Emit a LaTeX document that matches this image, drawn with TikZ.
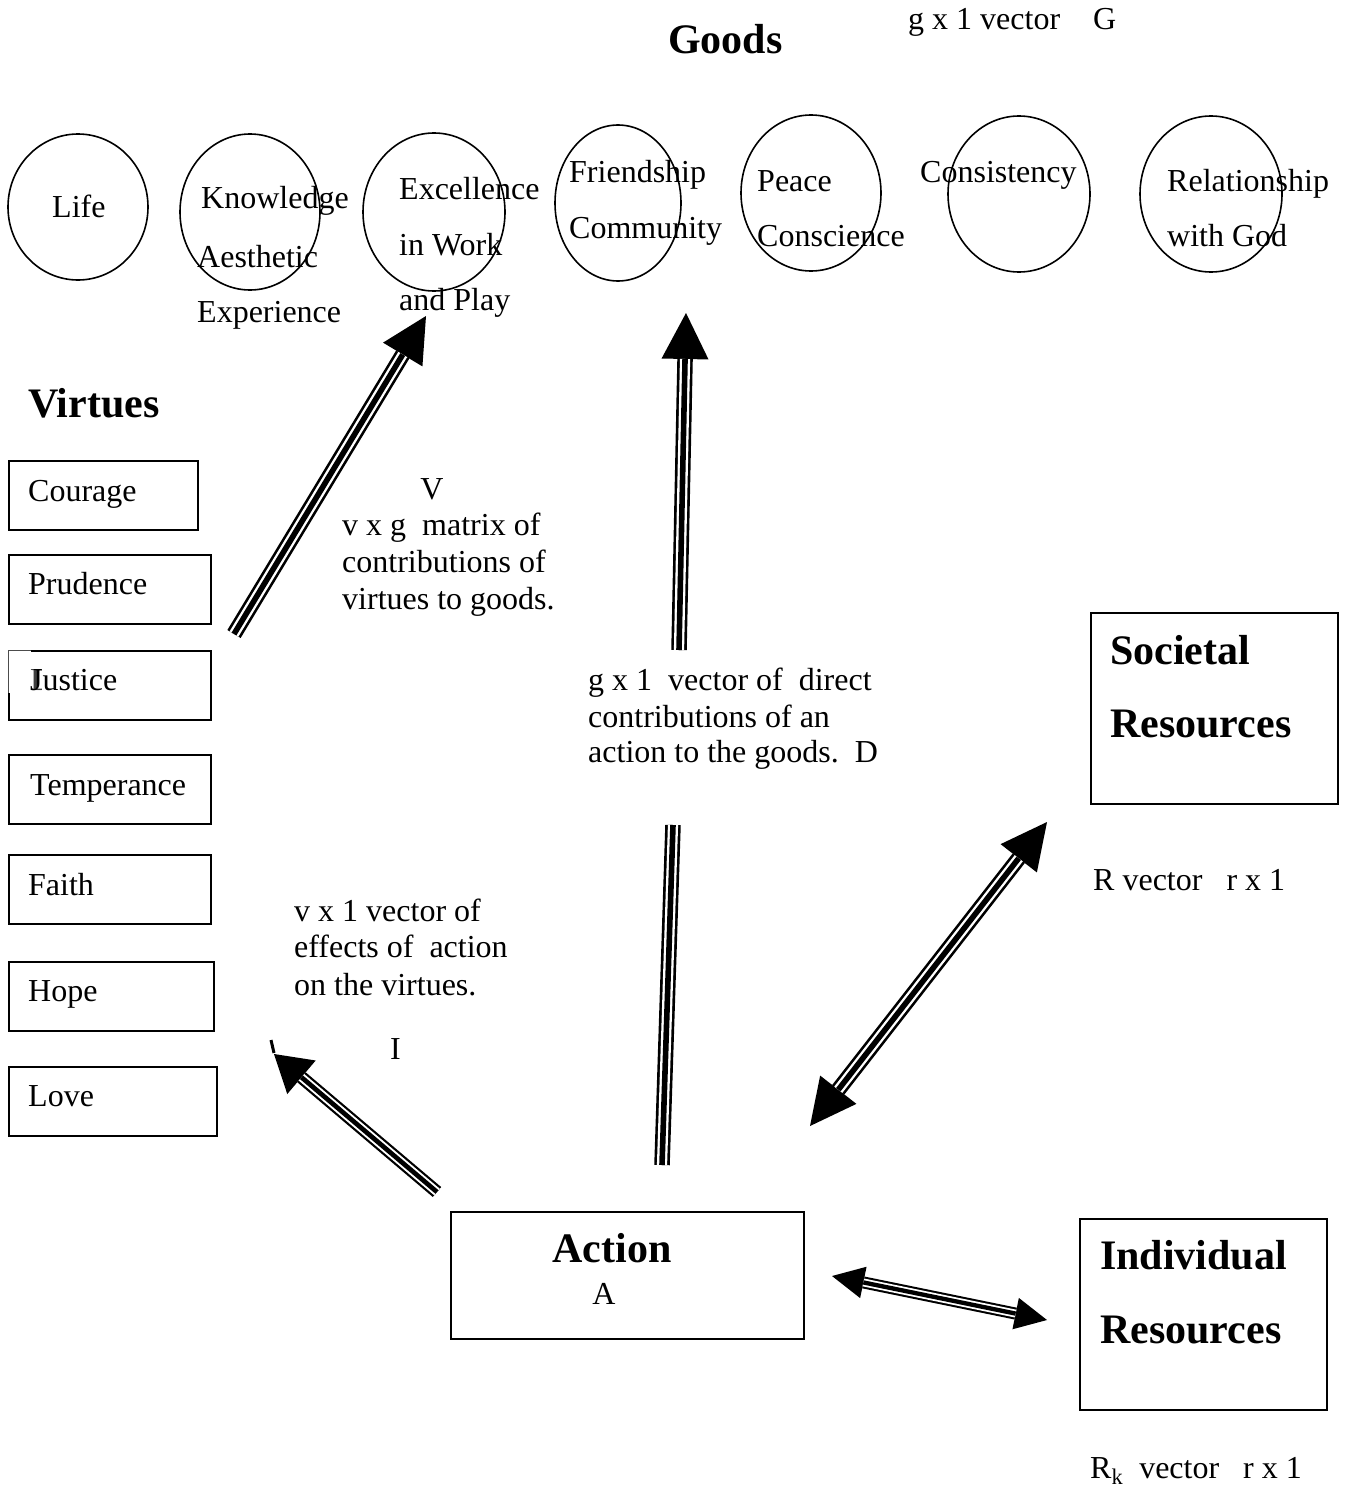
\documentclass[tikz,border=0pt]{standalone}
\usepackage{fontspec}
\setmainfont{Liberation Serif}
\usetikzlibrary{arrows.meta,shapes.geometric}
\begin{document}
\begin{tikzpicture}[x=1pt,y=-1pt,
  txt/.style={anchor=base west, inner sep=0pt, font=\fontsize{32}{37}\selectfont},
  btxt/.style={anchor=base west, inner sep=0pt, font=\fontsize{42}{48}\selectfont\bfseries},
  vbox/.style={draw, line width=2pt, anchor=north west, inner sep=0pt},
  good/.style={draw, ellipse, line width=1.6pt, inner sep=0pt},
  triplain/.style={line width=15.5pt, postaction={draw=white, line width=10.2pt}, postaction={draw=black, line width=5.6pt}},
  trione/.style n args={3}{line width=#3, -{Triangle[length=#1,width=#2,line width'=0pt]},
     postaction={draw=white, line width=#3*0.66, arrows=-, shorten >=#1},
     postaction={draw=black, line width=#3*0.36, arrows=-, shorten >=#1}},
  tritwo/.style 2 args={line width=#2, {Triangle[length=#1,width=#1,line width'=0pt]}-{Triangle[length=#1,width=#1,line width'=0pt]},
     postaction={draw=white, line width=#2*0.66, arrows=-, shorten >=#1, shorten <=#1},
     postaction={draw=black, line width=#2*0.36, arrows=-, shorten >=#1, shorten <=#1}},
]
\useasboundingbox[fill=white] (0,0) rectangle (1346,1488);

% ---------- Goods ----------
\node[btxt] (goods) at (668,54) {Goods};
\node[txt] (gvec) at (908,30) {g x 1 vector};
\node[txt] (gG) at (1093,30) {G};

\node[good, minimum width=140pt, minimum height=146pt] (life) at (78,207) {};
\node[good, minimum width=140pt, minimum height=156pt] (know) at (250,212) {};
\node[good, minimum width=142pt, minimum height=158pt] (exc) at (434,212) {};
\node[good, minimum width=126pt, minimum height=156pt] (friend) at (618,203) {};
\node[good, minimum width=140pt, minimum height=156pt] (peace) at (811,193) {};
\node[good, minimum width=142pt, minimum height=156pt] (cons) at (1019,194) {};
\node[good, minimum width=142pt, minimum height=156pt] (rel) at (1211,194) {};

\node[txt] (tlife) at (52,217) {Life};
\node[txt] (tknow1) at (201,208) {Knowledge};
\node[txt] (tknow2) at (197,267) {Aesthetic};
\node[txt] (tknow3) at (197,322) {Experience};
\node[txt] (texc1) at (399,199) {Excellence};
\node[txt] (texc2) at (399,255) {in Work};
\node[txt] (texc3) at (399,310) {and Play};
\node[txt] (tfr1) at (569,182) {Friendship};
\node[txt] (tfr2) at (569,238) {Community};
\node[txt] (tpe1) at (757,191) {Peace};
\node[txt] (tpe2) at (757,246) {Conscience};
\node[txt] (tcons) at (920,182) {Consistency};
\node[txt] (trel1) at (1167,191) {Relationship};
\node[txt] (trel2) at (1167,246) {with God};

% ---------- Virtues ----------
\node[btxt] (virtues) at (28,417) {Virtues};
\node[vbox, minimum width=189pt, minimum height=69pt] (courage) at (8,460) {};
\node[vbox, minimum width=202pt, minimum height=69pt] (prudence) at (8,554) {};
\node[vbox, minimum width=202pt, minimum height=69pt] (justice) at (8,650) {};
\node[vbox, minimum width=202pt, minimum height=69pt] (temperance) at (8,754) {};
\node[vbox, minimum width=202pt, minimum height=69pt] (faith) at (8,854) {};
\node[vbox, minimum width=205pt, minimum height=69pt] (hope) at (8,961) {};
\node[vbox, minimum width=208pt, minimum height=69pt] (love) at (8,1066) {};

\node[txt] (tcourage) at (28,501) {Courage};
\node[txt] (tprudence) at (28,594) {Prudence};
% small overlapping text box on the Justice box
\fill[white] (6,648) rectangle (31,693);
\draw[black!70, line width=0.8pt] (8,693) -- (8,650) -- (31,650);
\begin{scope}
  \clip (29,655) rectangle (41,700);
  \node[txt, text=black!75] (tD) at (30,690) {D};
\end{scope}
\node[txt] (tjustice) at (30,690) {Justice};
\node[txt] (ttemperance) at (30,795) {Temperance};
\node[txt] (tfaith) at (28,895) {Faith};
\node[txt] (thope) at (28,1001) {Hope};
\node[txt] (tlove) at (28,1106) {Love};

% ---------- Resources and action ----------
\node[vbox, minimum width=247pt, minimum height=191pt] (soc) at (1090,612) {};
\node[btxt] (tsoc1) at (1110,664) {Societal};
\node[btxt] (tsoc2) at (1110,737) {Resources};
\node[txt] (tR) at (1093,890) {R vector~~~r x 1};

\node[vbox, minimum width=247pt, minimum height=191pt] (ind) at (1079,1218) {};
\node[btxt] (tind1) at (1100,1269) {Individual};
\node[btxt] (tind2) at (1100,1343) {Resources};
\node[txt] (tRk) at (1090,1478) {R\textsubscript{k}~~vector~~~r x 1};

\node[vbox, minimum width=353pt, minimum height=127pt] (action) at (450,1211) {};
\node[btxt, anchor=base] (tact) at (612,1262) {Action};
\node[txt, anchor=base] (tA) at (604,1304) {A};

% ---------- labels ----------
\node[txt, anchor=base] (lV) at (432,499) {V};
\node[txt] (lV1) at (342,535) {v x g~~matrix of};
\node[txt] (lV2) at (342,572) {contributions of};
\node[txt] (lV3) at (342,609) {virtues to goods.};
\node[txt] (lD1) at (588,690) {g x 1~~vector of~~direct};
\node[txt] (lD2) at (588,727) {contributions of an};
\node[txt] (lD3) at (588,762) {action to the goods.~~D};
\node[txt] (lI1) at (294,921) {v x 1 vector of};
\node[txt] (lI2) at (294,957) {effects of~~action};
\node[txt] (lI3) at (294,995) {on the virtues.};
\node[txt] (lI) at (390,1059) {I};

% ---------- arrows ----------
\coordinate (vT) at (234,634);   \coordinate (vH) at (426,316);
\coordinate (dT) at (679,650);   \coordinate (dH) at (686,313);
\coordinate (dL1) at (662,1165); \coordinate (dL2) at (673,825);
\coordinate (iT) at (437,1192);  \coordinate (iH) at (274,1054);
\coordinate (sA) at (810,1126);  \coordinate (sB) at (1047,822);
\coordinate (rA) at (832,1276);  \coordinate (rB) at (1047,1320);
\coordinate (m1) at (271,1040);  \coordinate (m2) at (274,1053);

\draw[trione={45pt}{46pt}{15.5pt}] (vT) -- (vH);
\draw[trione={46pt}{47pt}{15.5pt}] (dT) -- (dH);
\draw[triplain] (dL1) -- (dL2);
\draw[trione={36pt}{44pt}{13pt}] (iT) -- (iH);
\draw[line width=3pt] (m1) -- (m2);
\draw[tritwo={46pt}{15.5pt}] (sA) -- (sB);
\draw[tritwo={32pt}{12pt}] (rA) -- (rB);
\end{tikzpicture}
\end{document}
